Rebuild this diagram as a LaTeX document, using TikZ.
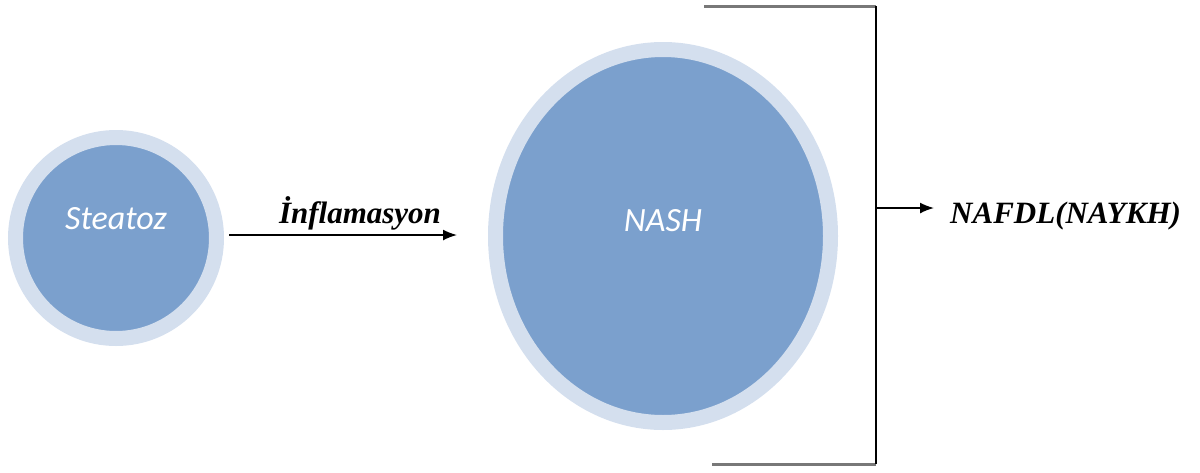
\documentclass[tikz,border=0pt]{standalone}
\usepackage{fontspec}
\setmainfont{Liberation Serif}
\newfontfamily\carl{Carlito}
\usetikzlibrary{arrows.meta,shapes.geometric}
\definecolor{fillblue}{RGB}{123,160,205}
\definecolor{ringblue}{RGB}{212,223,238}
\definecolor{barline}{RGB}{120,120,120}
\begin{document}
\begin{tikzpicture}[x=1pt,y=-1pt,
  blob/.style={draw=ringblue,line width=15pt,fill=fillblue,inner sep=0pt},
  blobtext/.style={text=white,font=\carl\itshape\fontsize{34}{34}\selectfont,inner sep=0pt},
  lbltext/.style={font=\bfseries\itshape\fontsize{31}{31}\selectfont,inner sep=0pt},
  arr/.style={-{Latex[length=14pt,width=11pt]},line width=1.6pt,black},
  grayline/.style={barline,line width=3pt},
  blackline/.style={black,line width=1.6pt}]
\useasboundingbox (0,0) rectangle (1200,472);
\node[blob,circle,minimum size=201pt] (steatoz) at (116,238) {};
\node[blobtext] (steatozt) at (116,219) {Steatoz};
\node[blob,ellipse,minimum width=335pt,minimum height=373pt] (nash) at (663,236) {};
\node[blobtext] (nasht) at (663,221) {NASH};
\node[lbltext,anchor=base] (infl) at (360,223) {İnflamasyon};
\draw[arr,shorten <=5pt,shorten >=31pt] ([yshift=3pt]steatoz.east) -- ([yshift=3pt]steatoz.east -| nash.west);
\coordinate (bt1) at (704,6);
\coordinate (bt2) at (876,6);
\coordinate (bb1) at (712,464);
\coordinate (bb2) at (876,464);
\coordinate (bm) at (876,208);
\draw[grayline] (bt1) -- (bt2);
\draw[grayline] (bb1) -- (bb2);
\draw[blackline] (bt2) -- (bb2);
\node[lbltext,anchor=base west] (nafdl) at (950,223) {NAFDL(NAYKH)};
\draw[arr,shorten >=16pt] (bm) -- (bm -| nafdl.west);
\end{tikzpicture}
\end{document}
